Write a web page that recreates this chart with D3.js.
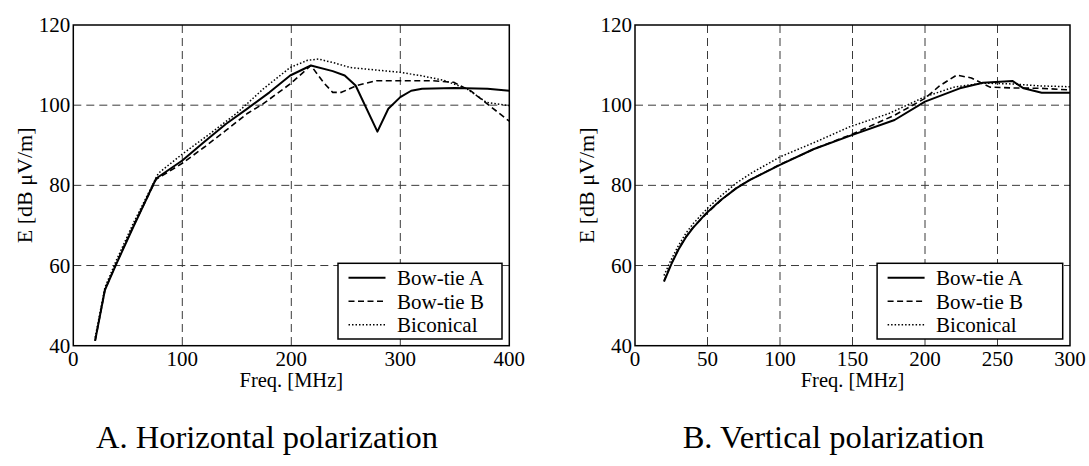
<!DOCTYPE html>
<html>
<head>
    <title>E-field vs frequency</title>
    <script src="https://d3js.org/d3.v7.min.js"></script>
    <style>
        body { margin: 0; background: #fff; }
    </style>
</head>
<body>
<div id="svg_container"></div>
<script>
    // ---- data ----
    const seriesNames = ["Bow-tie A", "Bow-tie B", "Biconical"];
    const yTicks = [40, 60, 80, 100, 120];

    // A. Horizontal polarization
    const hTicks = [0, 100, 200, 300, 400];
    const hA_f = [20, 29, 39, 55, 76, 100, 120, 140, 160, 180, 199, 218, 238, 249, 259, 279, 289, 300, 310, 320, 350, 380, 400];
    const hA_e = [41.2, 53.9, 60.1, 69.6, 81.7, 86.2, 90.8, 95.3, 99.2, 103.2, 107.4, 109.9, 108.5, 107.4, 104.9, 93.4, 99.1, 102, 103.6, 104.1, 104.3, 104.1, 103.6];
    const hB_f = [20, 29, 39, 55, 76, 100, 120, 140, 160, 174, 199, 218, 230, 238, 246, 260, 278, 300, 330, 349, 365, 378, 400];
    const hB_e = [41.2, 53.9, 60.3, 69.8, 81.5, 85.5, 89.5, 93.7, 98.0, 100.3, 105.3, 109.9, 105.5, 103.2, 103.2, 104.9, 106.1, 106.1, 106.1, 105.7, 103.5, 100.7, 96.0];
    const hC_f = [20, 29, 39, 55, 78, 100, 125, 150, 174, 199, 215, 225, 240, 254, 280, 300, 320, 340, 361, 379, 400];
    const hC_e = [42, 54.5, 61, 70.5, 83, 87.8, 92.8, 98, 104, 109.4, 111.2, 111.5, 110.5, 109.4, 108.7, 108.2, 107.3, 106.2, 104.1, 100.7, 99.9];

    // B. Vertical polarization
    const vTicks = [0, 50, 100, 150, 200, 250, 300];
    const vA_f = [20, 25, 30, 35, 40, 49, 59, 70, 79, 100, 123, 150, 179, 200, 224, 240, 260.5, 268, 280.5, 300];
    const vA_e = [56, 60.3, 64, 67, 69.4, 73, 76.3, 79.3, 81.3, 85.1, 89, 92.6, 96.3, 100.9, 104.2, 105.6, 106, 104.2, 103.1, 103.1];
    const vB_f = [20, 25, 30, 35, 40, 50, 60, 70, 80, 100, 125, 150, 179, 200, 210, 221.8, 232, 244.8, 260, 280, 300];
    const vB_e = [56.2, 60.5, 64.1, 67.1, 69.5, 73.2, 76.5, 79.4, 81.5, 85.2, 89.3, 92.8, 97.5, 101.7, 104.8, 107.5, 106.8, 104.5, 104.3, 104.2, 103.8];
    const vC_f = [20, 25, 30, 35, 40, 50, 60, 70, 80, 100, 125, 148, 175, 200, 220, 240, 260, 280, 300];
    const vC_e = [57.5, 61.5, 65, 68, 70.4, 74.3, 77.6, 80.6, 83, 87.1, 90.9, 94.6, 97.9, 102.1, 104.5, 105.5, 105.3, 104.8, 104.6];

    const font_family = "'Liberation Serif', 'Times New Roman', serif";

    const width = 1089;
    const height = 466;

    const svg = d3.select("#svg_container")
        .append("svg")
        .attr("id", "svg_target_id")
        .attr("width", width)
        .attr("height", height)
        .style("font-family", font_family);

    svg.append("rect").attr("width", width).attr("height", height).attr("fill", "#fff");

    const line_styles = [
        { dash: null, width: 2 },
        { dash: "6,3.5", width: 1.6 },
        { dash: "1.5,2", width: 1.5 }
    ];

    const panels = [
        {
            left: 73.3, right: 509.3, xmax: 400, ticks: hTicks,
            caption: "A. Horizontal polarization", capX: 267,
            legendW: 164,
            series: [[hA_f, hA_e], [hB_f, hB_e], [hC_f, hC_e]]
        },
        {
            left: 635, right: 1070, xmax: 300, ticks: vTicks,
            caption: "B. Vertical polarization", capX: 833.5,
            legendW: 185.6,
            series: [[vA_f, vA_e], [vB_f, vB_e], [vC_f, vC_e]]
        }
    ];

    const top_y = 25;
    const bottom_y = 345.7;

    panels.forEach(p => {
        const x = d3.scaleLinear().domain([0, p.xmax]).range([p.left, p.right]);
        const y = d3.scaleLinear().domain([40, 120]).range([bottom_y, top_y]);
        const g = svg.append("g");

        // grid
        g.selectAll(".vgrid")
            .data(p.ticks.slice(1, -1))
            .enter()
            .append("line")
            .attr("x1", d => x(d)).attr("x2", d => x(d))
            .attr("y1", top_y).attr("y2", bottom_y)
            .attr("stroke", "#3a3a3a")
            .attr("stroke-width", 1)
            .attr("stroke-dasharray", "8,5");
        g.selectAll(".hgrid")
            .data(yTicks.slice(1, -1))
            .enter()
            .append("line")
            .attr("x1", p.left).attr("x2", p.right)
            .attr("y1", d => y(d)).attr("y2", d => y(d))
            .attr("stroke", "#3a3a3a")
            .attr("stroke-width", 1)
            .attr("stroke-dasharray", "8,5");

        // curves
        const lineGen = d3.line().x(d => x(d[0])).y(d => y(d[1]));
        p.series.forEach((s, i) => {
            const pts = s[0].map((f, k) => [f, s[1][k]]);
            g.append("path")
                .attr("d", lineGen(pts))
                .attr("fill", "none")
                .attr("stroke", "#000")
                .attr("stroke-width", line_styles[i].width)
                .attr("stroke-dasharray", line_styles[i].dash)
                .attr("stroke-linejoin", "round");
        });

        // frame
        g.append("rect")
            .attr("x", p.left).attr("y", top_y)
            .attr("width", p.right - p.left).attr("height", bottom_y - top_y)
            .attr("fill", "none")
            .attr("stroke", "#000")
            .attr("stroke-width", 1.5);

        // tick labels
        g.selectAll(".xlab")
            .data(p.ticks)
            .enter()
            .append("text")
            .attr("x", d => x(d))
            .attr("y", 366)
            .attr("text-anchor", "middle")
            .attr("font-size", 21)
            .text(d => d);
        g.selectAll(".ylab")
            .data(yTicks)
            .enter()
            .append("text")
            .attr("x", p.left - 3)
            .attr("y", d => y(d) + 7)
            .attr("text-anchor", "end")
            .attr("font-size", 21)
            .text(d => d);

        // axis titles
        g.append("text")
            .attr("x", (p.left + p.right) / 2)
            .attr("y", 387)
            .attr("text-anchor", "middle")
            .attr("font-size", 20.5)
            .text("Freq. [MHz]");
        g.append("text")
            .attr("transform", `translate(${p.left - 41},${(top_y + bottom_y) / 2}) rotate(-90)`)
            .attr("text-anchor", "middle")
            .attr("font-size", 22)
            .text("E [dB μV/m]");

        // legend
        const lx = p.right - 7.3 - p.legendW;
        const ly = 263.3;
        g.append("rect")
            .attr("x", lx).attr("y", ly)
            .attr("width", p.legendW).attr("height", 75.7)
            .attr("fill", "#fff")
            .attr("stroke", "#000")
            .attr("stroke-width", 1.5);
        seriesNames.forEach((name, i) => {
            const ry = ly + 14.5 + i * 23.5;
            g.append("line")
                .attr("x1", lx + 10.5).attr("x2", lx + 47.5)
                .attr("y1", ry).attr("y2", ry)
                .attr("stroke", "#000")
                .attr("stroke-width", line_styles[i].width)
                .attr("stroke-dasharray", line_styles[i].dash);
            g.append("text")
                .attr("x", lx + 59)
                .attr("y", ry + 7.5)
                .attr("font-size", 21)
                .text(name);
        });

        // caption
        svg.append("text")
            .attr("x", p.capX)
            .attr("y", 448)
            .attr("text-anchor", "middle")
            .attr("font-size", 32.5)
            .text(p.caption);
    });
</script>
</body>
</html>
